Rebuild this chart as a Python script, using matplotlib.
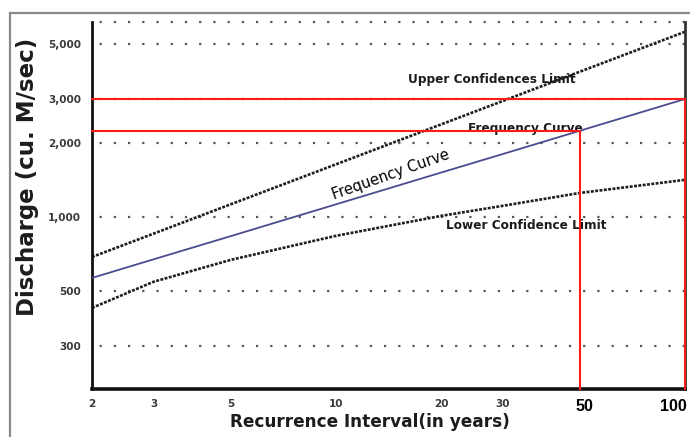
import numpy as np
import matplotlib
matplotlib.use("Agg")
import matplotlib.pyplot as plt
from matplotlib.lines import Line2D
from matplotlib.transforms import blended_transform_factory

# Du lieu doc tu hinh (truc log-log)
years = [2, 3, 5, 10, 20, 30, 50, 100]
upper_limit = [688, 855, 1125, 1632, 2367, 2942, 3871, 5613]
frequency = [566, 673, 836, 1124, 1511, 1795, 2232, 3000]
lower_limit = [428, 546, 670, 838, 1009, 1108, 1250, 1412]

# Duong tham chieu do (chu ky lap lai -> luu luong)
ref_years = [50, 100]
ref_discharge = [2232, 3000]

x_ticks = [2, 3, 5, 10, 20, 30]
y_ticks = [300, 500, 1000, 2000, 3000, 5000]
y_tick_labels = ["300", "500", "1,000", "2,000", "3,000", "5,000"]

xlim = (2, 100)
ylim = (201, 6150)

fig = plt.figure(figsize=(6.9, 4.37), dpi=100)
ax = fig.add_axes([92 / 690, 1 - 389 / 437, 593 / 690, (389 - 22) / 437])
ax.set_xscale("log")
ax.set_yscale("log")
ax.set_xlim(*xlim)
ax.set_ylim(*ylim)

# Luoi cham ngang
dot_style = dict(color="#555555", lw=1.6, linestyle=(3, (1, 5.4)), zorder=1)
for yv in y_ticks + [ylim[1]]:
    ax.axhline(yv, clip_on=False, **dot_style)

# Cac duong cong
curve_style = dict(color="#1e1e1e", lw=1.9, linestyle=(0, (1.1, 0.55)), zorder=2)
ax.plot(years, upper_limit, **curve_style)
ax.plot(years, lower_limit, **curve_style)
ax.plot(years, frequency, color="#4b4b8f", lw=1.3, zorder=6)

# Duong do
for xr, yr in zip(ref_years, ref_discharge):
    ax.plot([xlim[0], xr, xr], [yr, yr, ylim[0]], color="#ff1a1a", lw=1.5,
            clip_on=False, zorder=7)

# Nhan tren bieu do
ann = dict(fontsize=8.7, fontweight="bold", color="#1c1c1c",
           ha="center", va="center")
ax.text(27.9, 3590, "Upper Confidences Limit", **ann)
ax.text(34.9, 2270, "Frequency Curve", zorder=3, **ann)
ax.text(35.1, 920, "Lower Confidence Limit", **ann)
ax.text(14.4, 1480, "   Frequency Curve   ", fontsize=10.5, rotation=19.5,
        ha="center", va="center", color="black", zorder=5,
        bbox=dict(boxstyle="square,pad=0.3", fc="white", ec="none"))

# Truc
for side in ["left", "bottom", "right"]:
    ax.spines[side].set_color("#111111")
ax.spines["left"].set_linewidth(2.0)
ax.spines["bottom"].set_linewidth(2.6)
ax.spines["right"].set_linewidth(2.0)
ax.spines["right"].set_color("#333333")
ax.spines["top"].set_visible(False)

ax.set_yticks(y_ticks)
ax.set_yticklabels(y_tick_labels, fontsize=7.5, fontweight="bold", color="#3a3a3a")
ax.yaxis.set_minor_locator(matplotlib.ticker.NullLocator())
ax.set_xticks(x_ticks)
ax.set_xticklabels([str(v) for v in x_ticks], fontsize=7.5, fontweight="bold",
                   color="#3a3a3a")
ax.xaxis.set_minor_locator(matplotlib.ticker.NullLocator())
ax.tick_params(axis="both", length=0)
ax.tick_params(axis="y", pad=8)
ax.tick_params(axis="x", pad=7)

# Nhan 50 va 100 (them tay, phong khac)
trans = blended_transform_factory(ax.transData, ax.transAxes)
ax.text(51.5, -0.047, "50", transform=trans, fontsize=11.5, fontweight="bold",
        family="Liberation Sans", ha="center", va="center")
ax.text(101.3, -0.047, "100", transform=trans, fontsize=11.5, fontweight="bold",
        family="Liberation Sans", ha="right", va="center")

fig.text(370 / 690, 1 - 422 / 437, "Recurrence Interval(in years)", fontsize=12.2,
         fontweight="bold", color="#1c1c1c", ha="center", va="center")
fig.text(28 / 690, 1 - 177 / 437, "Discharge (cu. M/sec)", fontsize=16.5,
         fontweight="bold", color="#1c1c1c", rotation=90, ha="center", va="center")

# Khung ngoai
fig.add_artist(Line2D([10 / 690, 10 / 690], [0, 1 - 13 / 437], color="#8a8a8a", lw=1.6))
fig.add_artist(Line2D([10 / 690, 1], [1 - 13 / 437, 1 - 13 / 437], color="#8a8a8a", lw=1.6))

fig.savefig("out.png", dpi=100, facecolor="white")
